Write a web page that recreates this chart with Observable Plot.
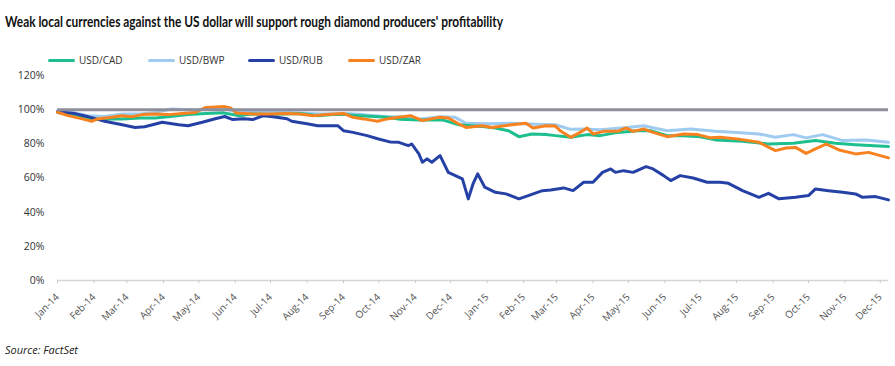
<!DOCTYPE html>
<html><head><meta charset="utf-8">
<script src="https://cdn.jsdelivr.net/npm/d3@7"></script>
<script src="https://cdn.jsdelivr.net/npm/@observablehq/plot@0.6"></script>
<style>
body{margin:0;background:#fff;width:895px;height:366px;position:relative;overflow:hidden;font-family:"Open Sans",sans-serif;}
#title{position:absolute;left:5px;top:14px;font-family:Lato,"Open Sans",sans-serif;font-size:15.5px;line-height:15.5px;font-weight:700;color:#111;white-space:nowrap;transform-origin:0 0;}
#legend{position:absolute;top:54px;left:48px;display:flex;}
.item{width:100px;display:flex;align-items:center;font-size:10px;line-height:12px;color:#333;}
.sw{width:27px;height:3px;border-radius:2px;margin-right:4px;}
#chart{position:absolute;left:0;top:65px;}
#caption{position:absolute;left:5px;top:344px;font-size:11px;line-height:11px;font-style:italic;color:#222;white-space:nowrap;transform-origin:0 0;}
</style></head>
<body>
<div id="title"></div>
<div id="legend"></div>
<div id="chart"></div>
<div id="caption"></div>
<script>
const titleText = "Weak local currencies against the US dollar will support rough diamond producers' profitability";
const captionText = "Source: FactSet";
const seriesNames = ["USD/CAD", "USD/BWP", "USD/RUB", "USD/ZAR"];
const seriesColors = ["#1dbf8e", "#9ecbef", "#2641a6", "#f7821f"];
const yTicks = [0, 20, 40, 60, 80, 100, 120];
const xTickMonths = ["2014-01-01","2014-02-01","2014-03-01","2014-04-01","2014-05-01","2014-06-01","2014-07-01","2014-08-01","2014-09-01","2014-10-01","2014-11-01","2014-12-01",
  "2015-01-01","2015-02-01","2015-03-01","2015-04-01","2015-05-01","2015-06-01","2015-07-01","2015-08-01","2015-09-01","2015-10-01","2015-11-01","2015-12-01"];
const xDomain = ["2014-01-01", "2015-12-08"];
const baseline = [100];

const cadDates = ["2014-01-01","2014-01-10","2014-01-22","2014-02-02","2014-02-15","2014-02-25","2014-03-12","2014-03-25","2014-04-07","2014-04-22","2014-05-07","2014-05-21","2014-06-05","2014-06-14","2014-07-01","2014-07-12","2014-07-26","2014-08-10","2014-08-23","2014-09-04","2014-09-15","2014-10-08","2014-10-19","2014-11-04","2014-11-24","2014-12-08","2014-12-30","2015-01-08","2015-01-19","2015-01-28","2015-02-08","2015-02-20","2015-02-28","2015-03-13","2015-03-27","2015-04-07","2015-04-22","2015-05-09","2015-05-20","2015-06-03","2015-06-17","2015-07-01","2015-07-14","2015-08-06","2015-08-28","2015-09-18","2015-10-07","2015-10-24","2015-11-10","2015-12-08"];
const cadValues = [98.5,97.5,95.5,94.2,94.6,94.6,95.1,95.1,96.0,97.1,97.8,98.2,96.5,97.5,97.1,97.5,97.8,96.5,97.1,97.1,96.5,95.5,94.4,94.0,94.0,91.2,90.0,89.3,87.7,84.2,85.8,85.4,84.8,83.8,85.4,84.8,86.7,87.7,87.7,84.8,84.8,84.2,82.3,81.5,79.9,80.3,81.9,80.3,79.5,78.4];

const bwpDates = ["2014-01-01","2014-01-16","2014-01-27","2014-02-10","2014-02-25","2014-03-12","2014-03-25","2014-04-08","2014-04-28","2014-05-11","2014-05-21","2014-06-01","2014-06-22","2014-07-18","2014-08-12","2014-09-02","2014-09-18","2014-10-08","2014-10-19","2014-11-05","2014-11-22","2014-12-05","2014-12-14","2015-01-04","2015-01-22","2015-02-11","2015-02-28","2015-03-13","2015-03-24","2015-04-07","2015-04-30","2015-05-14","2015-06-03","2015-06-23","2015-07-14","2015-08-01","2015-08-20","2015-09-03","2015-09-18","2015-09-29","2015-10-13","2015-10-30","2015-11-19","2015-12-08"];
const bwpValues = [99.0,98.0,96.5,96.0,97.5,97.5,98.4,100.4,99.8,100.5,101.0,99.0,98.5,98.4,97.5,97.8,97.1,95.9,95.8,94.5,95.8,95.5,92.0,91.8,92.0,91.5,91.2,88.5,88.7,88.3,89.6,90.6,87.7,88.7,87.3,86.7,85.8,83.8,85.4,83.5,85.4,81.9,82.3,80.9];

const rubDates = ["2014-01-01","2014-01-16","2014-01-27","2014-02-10","2014-02-25","2014-03-08","2014-03-16","2014-03-31","2014-04-14","2014-04-22","2014-05-04","2014-05-15","2014-05-23","2014-05-30","2014-06-08","2014-06-16","2014-06-25","2014-07-03","2014-07-15","2014-07-19","2014-08-01","2014-08-10","2014-08-27","2014-09-01","2014-09-09","2014-09-21","2014-09-30","2014-10-11","2014-10-18","2014-10-26","2014-10-29","2014-11-04","2014-11-07","2014-11-11","2014-11-15","2014-11-22","2014-11-29","2014-12-05","2014-12-11","2014-12-16","2014-12-20","2014-12-24","2014-12-30","2015-01-08","2015-01-17","2015-01-28","2015-02-05","2015-02-17","2015-02-24","2015-03-07","2015-03-15","2015-03-24","2015-04-01","2015-04-09","2015-04-16","2015-04-20","2015-04-27","2015-05-05","2015-05-16","2015-05-22","2015-05-31","2015-06-06","2015-06-14","2015-06-25","2015-07-07","2015-07-18","2015-07-25","2015-08-06","2015-08-20","2015-08-28","2015-09-06","2015-09-20","2015-10-01","2015-10-07","2015-10-18","2015-10-30","2015-11-10","2015-11-16","2015-11-27","2015-12-08"];
const rubValues = [98.8,97.7,95.9,93.2,91.2,89.6,90.0,92.6,91.2,90.6,92.6,94.7,96.0,94.2,94.7,94.2,96.5,95.9,94.7,93.2,91.8,90.6,90.6,87.7,86.7,84.8,83.0,81.0,80.9,78.9,79.9,74.1,69.2,71.2,69.2,73.1,63.3,61.4,59.5,47.8,56.5,62.4,54.6,51.6,50.7,47.8,49.7,52.6,53.0,54.2,52.6,57.5,57.5,63.3,65.3,63.3,64.3,63.3,66.7,65.3,61.4,58.5,61.4,60.0,57.5,57.5,56.9,52.6,48.7,51.0,47.8,48.7,49.7,53.6,52.6,51.6,50.7,48.7,49.1,47.2];

const zarDates = ["2014-01-01","2014-01-10","2014-01-22","2014-01-30","2014-02-04","2014-02-16","2014-02-25","2014-03-05","2014-03-14","2014-03-25","2014-04-05","2014-04-17","2014-04-28","2014-05-07","2014-05-15","2014-05-23","2014-05-28","2014-06-02","2014-06-16","2014-07-01","2014-07-15","2014-07-26","2014-08-06","2014-08-18","2014-09-01","2014-09-09","2014-09-18","2014-09-30","2014-10-08","2014-10-18","2014-10-28","2014-11-07","2014-11-21","2014-11-29","2014-12-08","2014-12-14","2014-12-28","2015-01-05","2015-01-22","2015-02-03","2015-02-09","2015-02-20","2015-02-28","2015-03-04","2015-03-13","2015-03-21","2015-03-27","2015-04-01","2015-04-10","2015-04-22","2015-04-29","2015-05-05","2015-05-14","2015-05-22","2015-06-03","2015-06-17","2015-06-29","2015-07-10","2015-07-18","2015-08-01","2015-08-20","2015-09-03","2015-09-12","2015-09-20","2015-09-29","2015-10-07","2015-10-16","2015-10-27","2015-11-10","2015-11-21","2015-12-08"];
const zarValues = [98.5,96.5,94.6,93.2,94.6,95.5,96.5,95.9,97.1,97.5,97.1,97.8,98.4,101.3,101.5,101.8,101.0,98.0,97.5,97.5,97.8,97.5,96.5,97.1,97.8,95.5,94.6,93.2,94.6,95.5,96.5,93.6,95.5,95.1,91.6,89.6,90.6,89.6,91.2,92.0,89.3,90.6,90.4,87.7,83.8,86.7,89.3,85.8,87.3,87.3,89.3,87.3,88.7,86.7,84.2,85.8,85.4,83.5,83.8,82.9,80.9,76.0,77.6,77.9,74.4,77.0,79.9,76.4,74.1,75.0,71.8];

const seriesDates = [cadDates, bwpDates, rubDates, zarDates];
const seriesValues = [cadValues, bwpValues, rubValues, zarValues];
const drawOrder = [1, 0, 2, 3];
const rows = drawOrder.flatMap(i => seriesDates[i].map((d, j) => ({series: seriesNames[i], date: new Date(d), value: seriesValues[i][j]})));

document.getElementById("title").textContent = titleText;
document.getElementById("caption").textContent = captionText;

const legend = document.getElementById("legend");
seriesNames.forEach((name, i) => {
  const it = document.createElement("div"); it.className = "item";
  const sw = document.createElement("span"); sw.className = "sw"; sw.style.background = seriesColors[i];
  const lb = document.createElement("span"); lb.textContent = name;
  it.append(sw, lb); legend.append(it);
});

const chart = Plot.plot({
  width: 895, height: 270,
  marginLeft: 57, marginRight: 7, marginTop: 10, marginBottom: 55,
  style: {fontFamily: "Open Sans, sans-serif", background: "white", color: "#404040"},
  x: {type: "utc", domain: xDomain.map(d => new Date(d))},
  y: {domain: [0, 120]},
  color: {domain: seriesNames, range: seriesColors},
  marks: [
    Plot.ruleY([0], {stroke: "#d6d6d6", strokeWidth: 1.5}),
    Plot.axisY({ticks: yTicks, tickFormat: d => d + "%", tickSize: 0, tickPadding: 13, fontSize: 10.5, fill: "#333", label: null}),
    Plot.axisX({ticks: xTickMonths.map(d => new Date(d)), tickFormat: d3.utcFormat("%b-%y"), tickRotate: -45, tickSize: 3, stroke: "#c8c8c8", tickPadding: 12, fontSize: 10, fill: "#555", label: null}),
    Plot.line(rows, {x: "date", y: "value", z: "series", stroke: "series", strokeWidth: 3, strokeLinejoin: "round", curve: "linear"}),
    Plot.ruleY(baseline, {stroke: "#8e8e9c", strokeWidth: 3})
  ]
});
document.getElementById("chart").append(chart);

function fitWidth(el, target) {
  const w = el.getBoundingClientRect().width;
  if (w > 0) el.style.transform = `scaleX(${target / w})`;
}
fitWidth(document.getElementById("title"), 498);
fitWidth(document.getElementById("caption"), 73);
</script>
</body></html>
